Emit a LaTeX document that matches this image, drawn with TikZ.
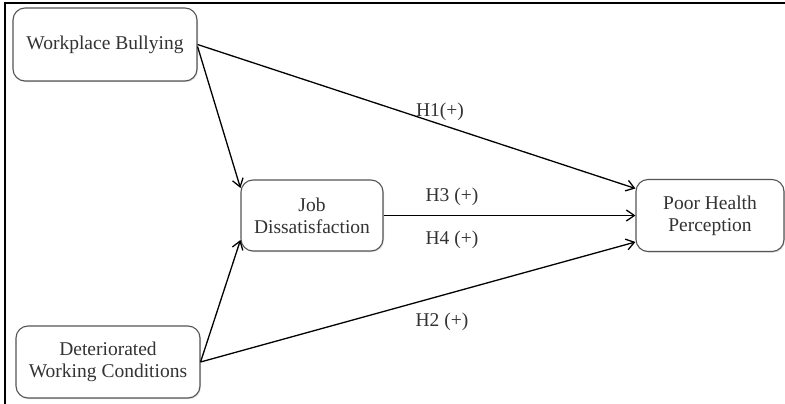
\documentclass[tikz,border=0pt]{standalone}
\usepackage{fontspec}
\setmainfont{Liberation Serif}
\usetikzlibrary{arrows.meta,shadows,calc}
\definecolor{txt}{HTML}{333333}
\definecolor{edge}{HTML}{555555}
\tikzset{
  box/.style={draw=edge, line width=1.1pt, rounded corners=12pt, fill=white,
    align=center, inner sep=0pt, text=txt,
    font=\fontsize{19.5}{22}\selectfont,
    drop shadow={opacity=0.25, shadow xshift=1pt, shadow yshift=-1.2pt}},
  link/.style={line width=1.3pt, -{Straight Barb[length=8pt,width=11pt,line width=1.3pt]}},
  lab/.style={text=txt, font=\fontsize{19.5}{22}\selectfont, inner sep=0pt}
}
\begin{document}
\begin{tikzpicture}[x=1pt,y=-1pt]
\useasboundingbox (0,0) rectangle (785,404);
\fill[white] (0,0) rectangle (785,404);
\draw[line width=1.6pt] (785,3) -- (5,3) -- (5,404);
\node[box, minimum width=184pt, minimum height=73pt] (wb) at (105,44.5) {Workplace Bullying};
\node[box, minimum width=184pt, minimum height=72pt] (dwc) at (108,362) {Deteriorated\\Working Conditions};
\node[box, minimum width=142pt, minimum height=71pt] (jd) at (312,215.5) {Job\\Dissatisfaction};
\node[box, minimum width=148pt, minimum height=72pt] (php) at (710,215.5) {Poor Health\\Perception};
\draw[link] (wb.east) -- ([yshift=27pt]php.west);
\draw[link] ([yshift=-2pt]wb.east) -- ([yshift=27.5pt]jd.west);
\draw[link] (dwc.east) -- ([yshift=-24.5pt]jd.west);
\draw[link] (dwc.east) -- ([yshift=-26.5pt]php.west);
\draw[link] (jd.east) -- (php.west);
\node[lab] (h1) at (440,112) {H1(+)};
\node[lab] (h3) at (452,197) {H3 (+)};
\node[lab] (h4) at (452,240) {H4 (+)};
\node[lab] (h2) at (442,322) {H2 (+)};
\end{tikzpicture}
\end{document}
